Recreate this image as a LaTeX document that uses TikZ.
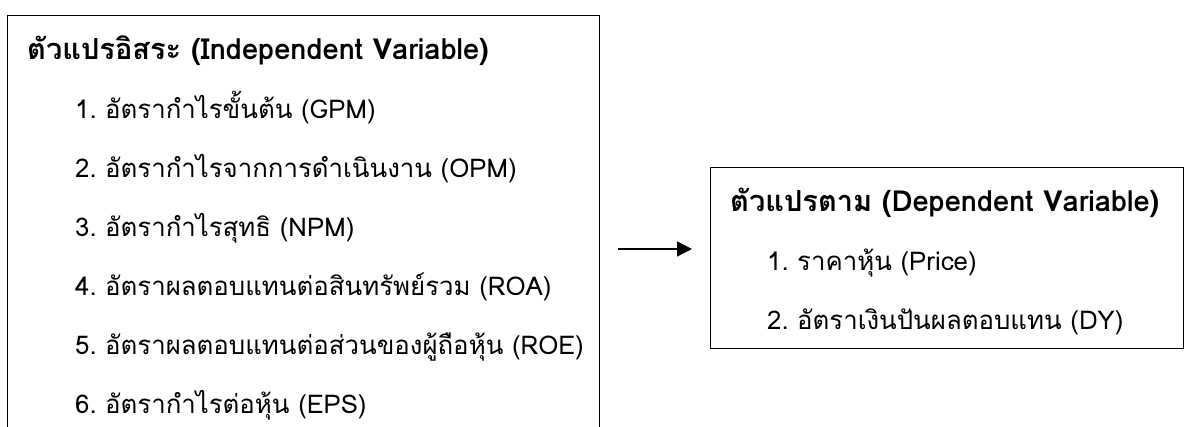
\documentclass[tikz,border=0pt]{standalone}
\usepackage{fontspec}
\setmainfont[Script=Thai]{Loma}
\usetikzlibrary{arrows.meta}
\newcommand{\numitem}[2]{\makebox[30pt][l]{#1}#2}
\begin{document}
\begin{tikzpicture}[x=1pt,y=-1pt,
  frame/.style={draw, line width=1.3pt, inner sep=0pt},
  head/.style={anchor=base west, inner sep=0pt, font=\bfseries\fontsize{29}{35}\selectfont},
  entry/.style={anchor=base west, inner sep=0pt, font=\fontsize{25.8}{31}\selectfont},
  conn/.style={line width=1.3pt, -{Triangle[length=15pt,width=15pt]}}]
\useasboundingbox (0,0) rectangle (1184,427);
\clip (0,0) rectangle (1184,427);
% left frame runs on past the lower edge of the page
\node[frame, anchor=north west, minimum width=592pt, minimum height=460pt] (lbox) at (7,15) {};
\node[frame, anchor=north west, minimum width=473pt, minimum height=181pt] (rbox) at (710,167) {};
% independent variables
\node[head]  (h1) at (27,60)  {ตัวแปรอิสระ (Independent Variable)};
\node[entry] (l1) at (75,119) {\numitem{1.}{อัตรากำไรขั้นต้น (GPM)}};
\node[entry] (l2) at (75,178) {\numitem{2.}{อัตรากำไรจากการดำเนินงาน (OPM)}};
\node[entry] (l3) at (75,237) {\numitem{3.}{อัตรากำไรสุทธิ (NPM)}};
\node[entry] (l4) at (75,296) {\numitem{4.}{อัตราผลตอบแทนต่อสินทรัพย์รวม (ROA)}};
\node[entry] (l5) at (75,355) {\numitem{5.}{อัตราผลตอบแทนต่อส่วนของผู้ถือหุ้น (ROE)}};
\node[entry] (l6) at (75,414) {\numitem{6.}{อัตรากำไรต่อหุ้น (EPS)}};
% dependent variables
\node[head]  (h2) at (730,212) {ตัวแปรตาม (Dependent Variable)};
\node[entry] (r1) at (767,271) {\numitem{1.}{ราคาหุ้น (Price)}};
\node[entry] (r2) at (767,330) {\numitem{2.}{อัตราเงินปันผลตอบแทน (DY)}};
% link between the two groups
\coordinate (mid) at (0,249);
\draw[conn, shorten <=18pt, shorten >=18pt] (lbox.east |- mid) -- (rbox.west |- mid);
\end{tikzpicture}
\end{document}
